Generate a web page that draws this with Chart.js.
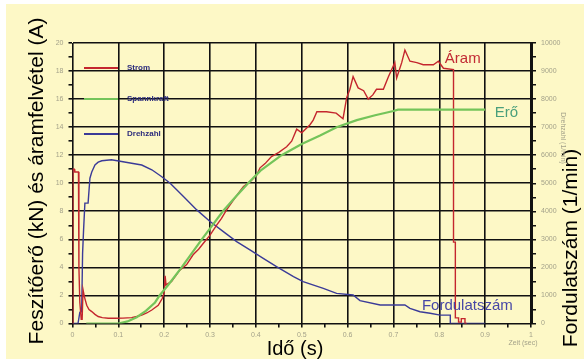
<!DOCTYPE html>
<html>
<head>
<meta charset="utf-8">
<script src="https://cdn.jsdelivr.net/npm/chart.js@4.4.1/dist/chart.umd.min.js"></script>
<style>
  html, body { margin: 0; padding: 0; background: #fff; }
</style>
</head>
<body>
<canvas id="lineChart" width="584" height="359"></canvas>
<script>
// current (A), left axis
var timeAram = [0, 0.001, 0.004, 0.005, 0.013, 0.014, 0.016, 0.019, 0.021, 0.023, 0.026, 0.031, 0.036, 0.042, 0.049,
  0.056, 0.065, 0.078, 0.093, 0.11, 0.129, 0.14, 0.151, 0.162, 0.173, 0.187, 0.196, 0.2, 0.202, 0.204, 0.216,
  0.225, 0.234, 0.249, 0.263, 0.275, 0.285, 0.3, 0.314, 0.325, 0.336, 0.351, 0.362, 0.373, 0.39, 0.402, 0.409,
  0.42, 0.434, 0.45, 0.467, 0.478, 0.489, 0.5, 0.518, 0.525, 0.533, 0.554, 0.575, 0.59, 0.598, 0.605, 0.612,
  0.623, 0.635, 0.645, 0.655, 0.663, 0.678, 0.689, 0.703, 0.707, 0.718, 0.725, 0.736, 0.751, 0.765, 0.787,
  0.798, 0.809, 0.831, 0.831, 0.835, 0.835, 0.842, 0.842, 0.848, 0.848, 0.856, 0.856, 0.86];
var aram = [0, 11.0, 11.0, 10.8, 10.8, 4.0, 1.5, 0.3, 0.3, 2.4, 1.9, 1.3, 1.0, 0.85, 0.65,
  0.5, 0.42, 0.37, 0.37, 0.38, 0.42, 0.5, 0.6, 0.75, 0.96, 1.3, 1.8, 2.2, 3.4, 2.75, 3.0,
  3.4, 3.8, 4.2, 4.9, 5.3, 5.7, 6.3, 7.0, 7.5, 8.1, 8.8, 9.3, 9.77, 10.2, 10.6, 11.1,
  11.4, 11.9, 12.2, 12.6, 13.0, 13.86, 13.6, 14.17, 14.5, 15.1, 15.1, 15.0, 14.6, 16.1, 16.7, 17.6,
  16.8, 16.6, 16.0, 16.3, 16.7, 16.7, 17.6, 18.6, 17.5, 18.6, 19.5, 18.7, 18.6, 18.45, 18.45,
  18.7, 18.2, 18.1, 5.8, 5.8, 0.4, 0.4, 0.1, 0.1, 0.35, 0.35, 0, 0];

// clamping force (kN), left axis
var timeEro = [0.03, 0.1, 0.12, 0.14, 0.16, 0.18, 0.19, 0.21, 0.238, 0.26, 0.282, 0.305, 0.328, 0.355, 0.383,
  0.41, 0.456, 0.5, 0.54, 0.576, 0.62, 0.66, 0.7, 0.71, 0.9];
var ero = [0, 0, 0.15, 0.45, 0.9, 1.5, 2.0, 2.8, 4.0, 5.0, 6.0, 7.0, 8.0, 9.0, 10.0,
  10.9, 12.0, 12.8, 13.4, 14.0, 14.5, 14.85, 15.15, 15.25, 15.25];

// speed (1/min), right axis
var timeFord = [0, 0.012, 0.016, 0.02, 0.022, 0.024, 0.027, 0.034, 0.038, 0.042, 0.049, 0.056, 0.064, 0.085,
  0.107, 0.129, 0.151, 0.173, 0.194, 0.213, 0.242, 0.271, 0.3, 0.329, 0.358, 0.387, 0.416, 0.445, 0.482,
  0.503, 0.547, 0.576, 0.612, 0.627, 0.671, 0.725, 0.736, 0.758, 0.78, 0.802, 0.824, 0.824, 0.9];
var ford = [0, 0, 400, 420, 2500, 3275, 4290, 4290, 5180, 5400, 5650, 5750, 5800, 5835,
  5775, 5715, 5650, 5480, 5240, 5000, 4525, 4050, 3635, 3275, 2920, 2625, 2325, 2025, 1670,
  1490, 1255, 1075, 1015, 815, 660, 660, 540, 420, 365, 300, 300, 0, 0];

var seriesNames = ['Strom', 'Spannkraft', 'Drehzahl'];
var seriesColors = ['#c4262e', '#74c45a', '#3b3b98'];

var xTicks = ['0', '0.1', '0.2', '0.3', '0.4', '0.5', '0.6', '0.7', '0.8', '0.9', '1'];

// in-plot labels: text, x, y (left axis units)
var noteText = ['Áram', 'Erő', 'Fordulatszám'];
var noteX = [0.812, 0.921, 0.762];
var noteY = [18.57, 14.72, 0.96];
var noteColors = ['#c22a34', '#4a9f7c', '#4646a6'];

function pairs(xs, ys) {
  return xs.map(function (x, i) { return { x: x, y: ys[i] }; });
}

var fam = '"Liberation Sans", Arial, sans-serif';
var tickGrey = '#a4a28a';
var ink = '#111';

var paperPlugin = {
  id: 'paper',
  beforeDraw: function (chart) {
    var ctx = chart.ctx;
    ctx.save();
    ctx.fillStyle = '#fff';
    ctx.fillRect(0, 0, chart.width, chart.height);
    ctx.fillStyle = '#fdf8c6';
    ctx.fillRect(6, 4, chart.width - 6, chart.height - 4);
    ctx.restore();
  },
  afterDraw: function (chart) {
    var ctx = chart.ctx;
    var sx = chart.scales.x, sy = chart.scales.y;
    ctx.save();

    // axis titles
    ctx.fillStyle = '#000';
    ctx.font = '21px ' + fam;
    ctx.textAlign = 'center';
    ctx.textBaseline = 'alphabetic';
    ctx.save();
    ctx.translate(43, 181);
    ctx.rotate(-Math.PI / 2);
    ctx.fillText('Feszítőerő (kN) és áramfelvétel (A)', 0, 0);
    ctx.restore();
    ctx.save();
    ctx.translate(577, 248);
    ctx.rotate(-Math.PI / 2);
    ctx.fillText('Fordulatszám (1/min)', 0, 0);
    ctx.restore();
    ctx.font = '20px ' + fam;
    ctx.fillText('Idő (s)', 295, 355);

    // small original labels
    ctx.fillStyle = tickGrey;
    ctx.font = '7px ' + fam;
    ctx.fillText('Zeit (sec)', 523, 345);
    ctx.save();
    ctx.translate(561, 138);
    ctx.rotate(Math.PI / 2);
    ctx.fillText('Drehzahl (1/min)', 0, 0);
    ctx.restore();

    // legend inside the plot
    var ly = [68, 99, 134];
    ctx.textAlign = 'left';
    ctx.textBaseline = 'middle';
    ctx.font = 'bold 8px ' + fam;
    for (var i = 0; i < 3; i++) {
      ctx.strokeStyle = seriesColors[i];
      ctx.lineWidth = 2;
      ctx.beginPath();
      ctx.moveTo(84, ly[i]);
      ctx.lineTo(118, ly[i]);
      ctx.stroke();
      ctx.fillStyle = '#2c2c7c';
      ctx.fillText(seriesNames[i], 127, ly[i]);
    }

    // curve names
    ctx.textBaseline = 'alphabetic';
    ctx.font = '15px ' + fam;
    for (var j = 0; j < noteText.length; j++) {
      ctx.fillStyle = noteColors[j];
      ctx.fillText(noteText[j], sx.getPixelForValue(noteX[j]), sy.getPixelForValue(noteY[j]));
    }
    ctx.restore();
  }
};

var ctxL = document.getElementById('lineChart').getContext('2d');
var myLineChart = new Chart(ctxL, {
  type: 'line',
  plugins: [paperPlugin],
  data: {
    datasets: [{
      label: seriesNames[1],
      data: pairs(timeEro, ero),
      borderColor: seriesColors[1],
      borderWidth: 2.2,
      yAxisID: 'y'
    }, {
      label: seriesNames[0],
      data: pairs(timeAram, aram),
      borderColor: seriesColors[0],
      borderWidth: 1.4,
      yAxisID: 'y'
    }, {
      label: seriesNames[2],
      data: pairs(timeFord, ford),
      borderColor: seriesColors[2],
      borderWidth: 1.4,
      yAxisID: 'y2'
    }]
  },
  options: {
    responsive: false,
    animation: false,
    layout: { padding: { top: 43, left: 0, right: 0, bottom: 0 } },
    elements: { point: { radius: 0 }, line: { tension: 0 } },
    plugins: { legend: { display: false }, tooltip: { enabled: false } },
    scales: {
      x: {
        type: 'linear',
        min: 0,
        max: 1,
        ticks: {
          stepSize: 0.05,
          autoSkip: false,
          maxRotation: 0,
          padding: 3,
          color: tickGrey,
          font: { family: fam, size: 7 },
          callback: function (v) {
            var t = Math.round(v * 100);
            return t % 10 === 0 ? xTicks[t / 10] : '';
          }
        },
        grid: {
          color: function (c) {
            return Math.round(c.tick.value * 100) % 10 === 0 ? ink : 'rgba(0,0,0,0)';
          },
          tickColor: ink,
          lineWidth: 1.6,
          tickLength: 4
        },
        border: { display: false },
        afterFit: function (s) { s.height = 35.5; }
      },
      y: {
        position: 'left',
        min: 0,
        max: 20,
        ticks: {
          stepSize: 1,
          autoSkip: false,
          padding: 5,
          color: tickGrey,
          font: { family: fam, size: 7 },
          callback: function (v) { return v % 2 === 0 ? String(v) : ''; }
        },
        grid: {
          color: function (c) { return c.tick.value % 2 === 0 ? ink : 'rgba(0,0,0,0)'; },
          tickColor: ink,
          lineWidth: 1.6,
          tickLength: 4
        },
        border: { color: ink, width: 1 },
        afterFit: function (s) { s.width = 72.5; }
      },
      y2: {
        position: 'right',
        min: 0,
        max: 10000,
        ticks: {
          stepSize: 500,
          autoSkip: false,
          padding: 5,
          color: tickGrey,
          font: { family: fam, size: 7 },
          callback: function (v) { return v % 1000 === 0 ? String(v) : ''; }
        },
        grid: { drawOnChartArea: false, tickColor: ink, tickLength: 5, lineWidth: 1.5 },
        border: { color: ink, width: 3 },
        afterFit: function (s) { s.width = 53; }
      }
    }
  }
});
</script>
</body>
</html>
